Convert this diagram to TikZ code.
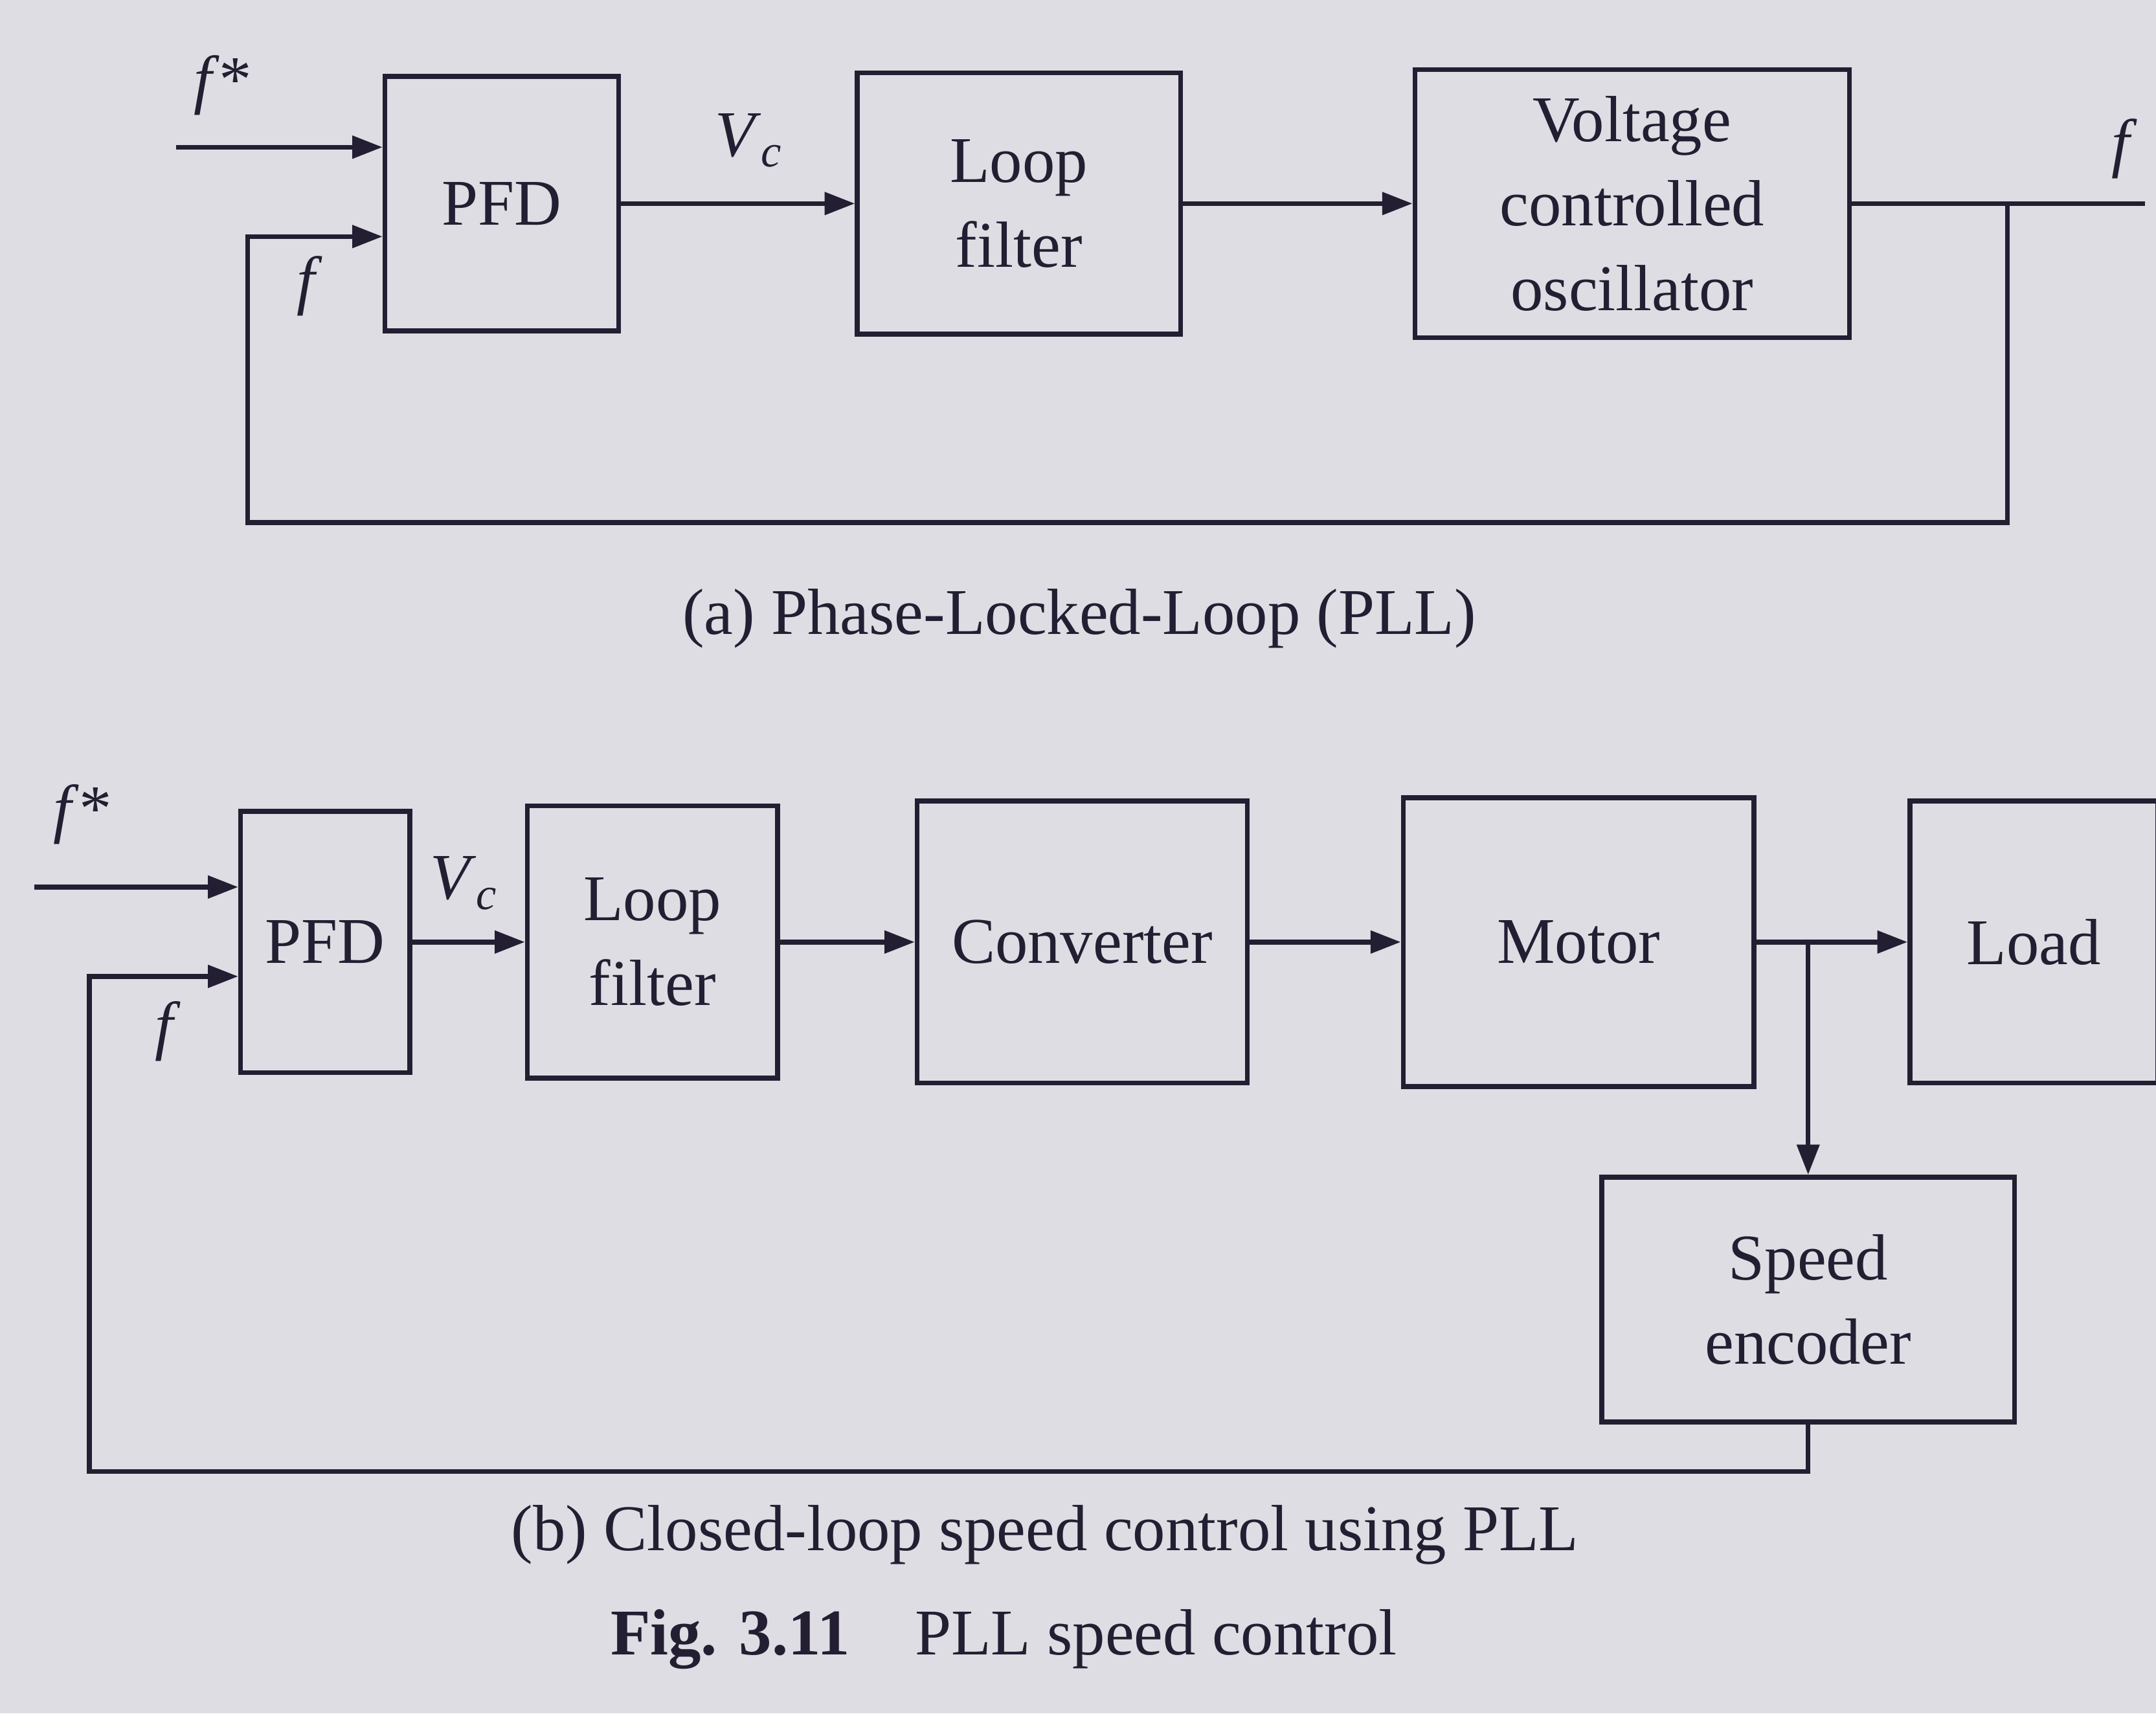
\documentclass[tikz,border=0pt]{standalone}
\usepackage{fontspec}
\setmainfont{Liberation Serif}
\usetikzlibrary{positioning,arrows.meta}
\definecolor{paper}{RGB}{221,221,227}
\definecolor{ink}{RGB}{35,30,50}

\begin{document}
\begin{tikzpicture}[
    >={Triangle[length=2.2mm,width=1.6mm]},
    every node/.style={font=\fontsize{13.5}{17.5}\selectfont, text=ink},
    block/.style={
        draw=ink,
        line width=1pt,
        inner sep=0pt,
        align=center
    },
    signal/.style={
        line width=1pt,
        draw=ink
    },
    sig/.style={
        inner sep=1pt
    }
]

\useasboundingbox (0,0) rectangle (15.68,-12.46);
\path[fill=paper] (0,0) rectangle (15.68,-12.46);

\node[
    block,
    minimum width=1.70cm,
    minimum height=1.85cm
] (pfdA) at (3.65,-1.48)
{PFD};

\node[
    block,
    minimum width=2.35cm,
    minimum height=1.9cm,
    right=1.70cm of pfdA
] (filterA)
{Loop\\filter};

\node[
    block,
    minimum width=3.16cm,
    minimum height=1.95cm,
    right=1.67cm of filterA
] (vcoA)
{Voltage\\controlled\\oscillator};

\coordinate (inA) at (1.28,-1.07);
\coordinate (tapA) at (14.6,-1.48);
\coordinate (outA) at (15.6,-1.48);
\coordinate (botA) at (1.8,-3.8);

\node[sig] (fstarA) at (1.62,-0.62) {\textit{f}*};
\node[sig] (vcA) at (5.45,-1.02) {\textit{V}\textsubscript{\textit{c}}};
\node[sig] (fA) at (2.25,-2.08) {\textit{f}};
\node[sig] (foutA) at (15.45,-1.08) {\textit{f}};

\draw[
    ->,
    signal
]
(inA) -- (inA -| pfdA.west);

\draw[
    ->,
    signal
]
(pfdA) -- (filterA);

\draw[
    ->,
    signal
]
(filterA) -- (vcoA);

\draw[
    signal
]
(vcoA) -- (outA);

\draw[
    ->,
    signal
]
(tapA) |- (botA) |- ([yshift=-2.4mm]pfdA.west);

\node (capA) at (7.85,-4.5)
{(a) Phase-Locked-Loop (PLL)};

\node[
    block,
    minimum width=1.23cm,
    minimum height=1.9cm
] (pfdB) at (2.365,-6.85)
{PFD};

\node[
    block,
    minimum width=1.82cm,
    minimum height=1.98cm,
    right=0.82cm of pfdB
] (filterB)
{Loop\\filter};

\node[
    block,
    minimum width=2.40cm,
    minimum height=2.05cm,
    right=0.98cm of filterB
] (converter)
{Converter};

\node[
    block,
    minimum width=2.55cm,
    minimum height=2.1cm,
    right=1.10cm of converter
] (motor)
{Motor};

\node[
    block,
    minimum width=1.8cm,
    minimum height=2.05cm,
    right=1.10cm of motor
] (load)
{Load};

\node[
    block,
    minimum width=3.0cm,
    minimum height=1.78cm
] (encoder) at (13.15,-9.45)
{Speed\\encoder};

\coordinate (inB) at (0.25,-6.45);
\coordinate (tapB) at (13.15,-6.85);
\coordinate (botB) at (0.65,-10.7);

\node[sig] (fstarB) at (0.6,-5.92) {\textit{f}*};
\node[sig] (vcB) at (3.38,-6.42) {\textit{V}\textsubscript{\textit{c}}};
\node[sig] (fB) at (1.22,-7.5) {\textit{f}};

\draw[
    ->,
    signal
]
(inB) -- (inB -| pfdB.west);

\draw[
    ->,
    signal
]
(pfdB) -- (filterB);

\draw[
    ->,
    signal
]
(filterB) -- (converter);

\draw[
    ->,
    signal
]
(converter) -- (motor);

\draw[
    ->,
    signal
]
(motor) -- (load);

\draw[
    ->,
    signal
]
(tapB) -- (encoder);

\draw[
    ->,
    signal
]
(encoder) |- (botB) |- ([yshift=-2.5mm]pfdB.west);

\node (capB) at (7.6,-11.16)
{(b) Closed-loop speed control using PLL};

\node (figcap) at (7.3,-11.92)
{\textbf{Fig. 3.11}\quad PLL speed control};

\end{tikzpicture}
\end{document}
